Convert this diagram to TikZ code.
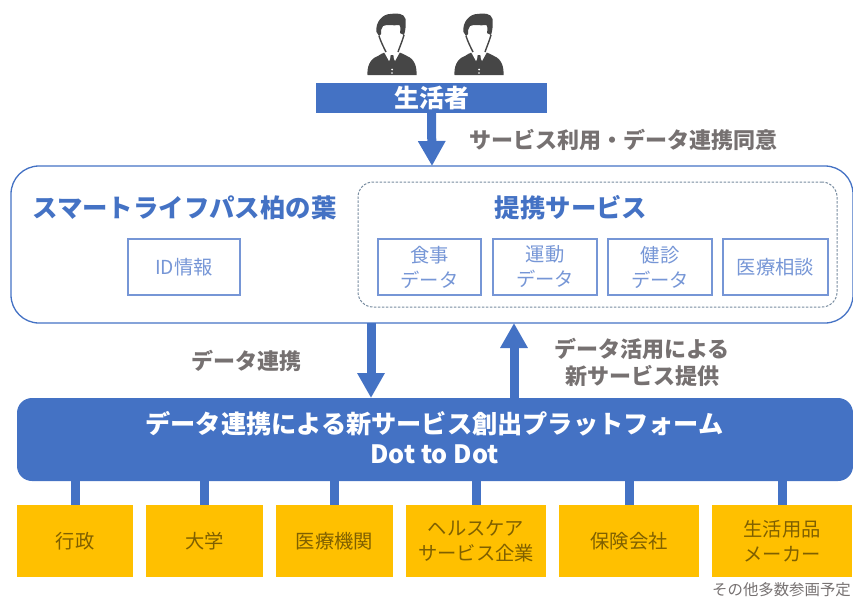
\documentclass[tikz,border=0pt]{standalone}
\usepackage{fontspec}
\setmainfont{Noto Sans CJK JP}
\usetikzlibrary{arrows.meta}
\definecolor{mainBlue}{RGB}{68,114,196}
\definecolor{paleBlue}{RGB}{118,150,214}
\definecolor{labelGray}{RGB}{118,113,113}
\definecolor{dashGray}{RGB}{120,140,160}
\definecolor{orgYellow}{RGB}{255,192,0}
\definecolor{orgText}{RGB}{127,96,0}
\definecolor{personGray}{RGB}{70,70,70}
\tikzset{
  blockarrow/.style={draw=mainBlue,line width=9pt,-{Triangle[width=26pt,length=25pt]}},
  linkbar/.style={draw=mainBlue,line width=9pt},
  grayLabel/.style={text=labelGray,font=\fontsize{22}{27}\selectfont\bfseries,align=center,inner sep=0pt},
  titleLabel/.style={text=mainBlue,font=\fontsize{25.4}{30}\selectfont\bfseries,inner sep=0pt},
  dataBox/.style={draw=paleBlue,line width=1.6pt,text=paleBlue,anchor=north west,outer sep=0pt,inner sep=0pt,
    font=\fontsize{19.3}{25}\selectfont,align=center},
  orgBox/.style={fill=orgYellow,text=orgText,anchor=north west,outer sep=0pt,inner sep=0pt,
    minimum height=72pt,font=\fontsize{19.3}{25}\selectfont,align=center},
  pics/person/.style={code={
    \fill[personGray] (-14,42) .. controls (-10,39) and (-6,38) .. (-3,37) -- (3,37)
      .. controls (6,38) and (10,39) .. (15,42) .. controls (23,45) and (25,54) .. (24.5,61)
      -- (-24.5,61) .. controls (-25,54) and (-23,45) .. (-14,42) -- cycle;
    \fill[white] (-8,38) -- (-3,47) -- (0,41) -- (3,47) -- (8,38) -- (4,33) -- (-4,33) -- cycle;
    \fill[personGray] (-1.4,41) -- (1.4,41) -- (2.2,51) -- (0,54) -- (-2.2,51) -- cycle;
    \fill[white] (0,55.5) circle (1pt) (0,59) circle (0.9pt);
    \fill[personGray] (-15.5,18) .. controls (-17,8) and (-9,0) .. (-2,0)
      .. controls (5,-1) and (12,-1) .. (13.5,5) .. controls (14,11) and (13.5,17) .. (12,21)
      -- (8,19) .. controls (9,14) and (8,11) .. (7,11)
      .. controls (1,12) and (-5,10) .. (-9,12) .. controls (-11,14) and (-11,17) .. (-11,20)
      -- (-13,22) -- cycle;
    \draw[personGray,line width=1.4pt] (-13,22) .. controls (-11,28) and (-9,32) .. (-6,38);
    \draw[personGray,line width=1.4pt] (12,21) .. controls (10,28) and (8,32) .. (6,38);
  }}
}
\begin{document}
\begin{tikzpicture}[x=1pt,y=-1pt]
\useasboundingbox (0,0) rectangle (853,598);

% users
\pic at (392,14) {person};
\pic at (479,14) {person};
\node[fill=mainBlue,text=white,anchor=north west,outer sep=0pt,inner sep=0pt,minimum width=231pt,minimum height=30pt,
  font=\fontsize{25}{25}\selectfont\bfseries] (consumer) at (316,83) {生活者};

% smart life pass
\node[draw=mainBlue,line width=1.3pt,rounded corners=28pt,anchor=north west,outer sep=0pt,minimum width=842pt,minimum height=157pt] (lifepass) at (11,166) {};
\node[draw=dashGray,dash pattern=on 2.5pt off 1.5pt,line width=1pt,rounded corners=15pt,anchor=north west,outer sep=0pt,minimum width=479pt,minimum height=125pt] (partner) at (358,182) {};
\node[titleLabel] (lifepassTitle) at (184.5,208) {スマートライフパス柏の葉};
\node[titleLabel] (partnerTitle) at (571,208) {提携サービス};
\node[dataBox,minimum width=112pt,minimum height=56pt] (idBox) at (128,239) {ID情報};
\node[dataBox,minimum width=103pt,minimum height=56pt] (foodBox) at (378,239) {食事\\データ};
\node[dataBox,minimum width=104pt,minimum height=56pt] (moveBox) at (493,239) {運動\\データ};
\node[dataBox,minimum width=104pt,minimum height=56pt] (checkBox) at (608,239) {健診\\データ};
\node[dataBox,minimum width=105pt,minimum height=56pt] (adviceBox) at (723,239) {医療相談};

% platform
\node[fill=mainBlue,rounded corners=15pt,anchor=north west,outer sep=0pt,inner sep=0pt,minimum width=836pt,minimum height=83pt] (platform) at (17,398) {};
\node[text=white,inner sep=0pt,font=\fontsize{25.2}{30}\selectfont\bfseries,align=center] (platformTitle) at (434.5,437.5) {データ連携による新サービス創出プラットフォーム\\Dot to Dot};

% organisations
\node[orgBox,minimum width=116pt] (orgGov) at (17,505) {行政};
\node[orgBox,minimum width=117pt] (orgUniv) at (146,505) {大学};
\node[orgBox,minimum width=117pt] (orgMed) at (276,505) {医療機関};
\node[orgBox,minimum width=140pt] (orgCare) at (406,505) {ヘルスケア\\サービス企業};
\node[orgBox,minimum width=140pt] (orgIns) at (559,505) {保険会社};
\node[orgBox,minimum width=140pt] (orgMaker) at (712,505) {生活用品\\メーカー};

% labels
\node[grayLabel] (consentLabel) at (623.5,140) {サービス利用・データ連携同意};
\node[grayLabel] (linkLabel) at (246,361) {データ連携};
\node[grayLabel] (newLabel) at (642,362.5) {データ活用による\\新サービス提供};
\node[text=labelGray,anchor=east,inner sep=0pt,font=\fontsize{15.4}{15}\selectfont] (moreLabel) at (851,590) {その他多数参画予定};

% connectors
\coordinate (downX) at (371,0);
\coordinate (upX) at (514,0);
\draw[blockarrow] (consumer.south) -- (lifepass.north);
\draw[blockarrow] (lifepass.south -| downX) -- (platform.north -| downX);
\draw[blockarrow] (platform.north -| upX) -- (lifepass.south -| upX);
\foreach \org in {orgGov,orgUniv,orgMed,orgCare,orgIns,orgMaker}
  \draw[linkbar] (platform.south -| \org.north) -- (\org.north);
\end{tikzpicture}
\end{document}
